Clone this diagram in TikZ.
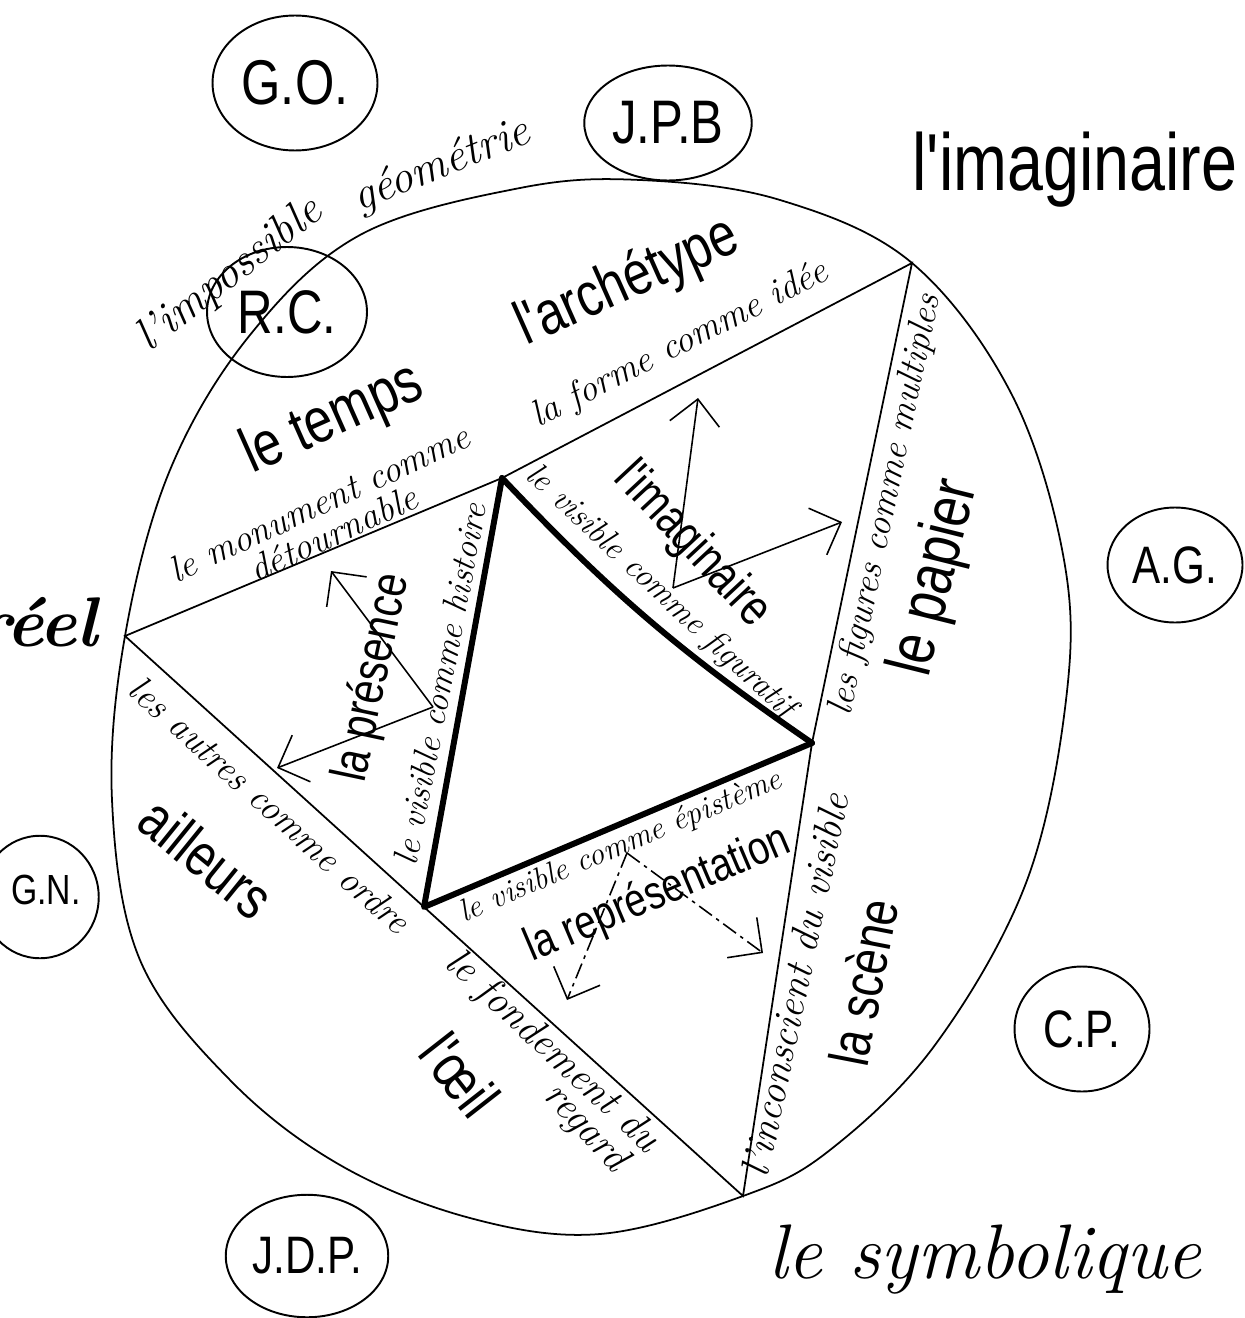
\documentclass[tikz,border=0pt]{standalone}
\usepackage{fontspec}
\newfontfamily\printhand[FakeStretch=0.8]{Liberation Sans}
\usetikzlibrary{shapes.geometric,arrows.meta}

\tikzset{
  trait/.style={line width=1pt},
  gras/.style={line width=3.4pt, line cap=round, line join=round},
  initiales/.style={draw, ellipse, line width=1.1pt, inner sep=0pt,
    font=\printhand\fontsize{30}{30}\selectfont},
  ecrit/.style={font=\itshape\fontsize{#1}{#1}\selectfont, inner sep=0pt},
  imprime/.style={font=\printhand\fontsize{#1}{#1}\selectfont, inner sep=0pt},
  fleche/.style={->, line width=0.9pt},
  pointille/.style={dash pattern=on 9pt off 3pt on 2pt off 3pt},
}

\begin{document}
\begin{tikzpicture}[x=0.02cm, y=-0.02cm,
  >={Straight Barb[length=5mm, width=10mm]}]
\useasboundingbox (0,0) rectangle (1244,1318);
\clip (0,0) rectangle (1244,1318);

% sommets
\coordinate (A) at (912,263);
\coordinate (B) at (125,636);
\coordinate (C) at (743,1196);
\coordinate (P) at (502,478);
\coordinate (Q) at (812,743);
\coordinate (R) at (424,907);

% le contour
\draw[trait] plot[smooth cycle, tension=0.6] coordinates {
  (A) (1012,395) (1064,560) (1066,700) (1026,883) (935,1045)
  (830,1150) (C) (600,1234) (470,1218) (340,1165) (230,1080)
  (140,960) (112,800) (B) (170,470) (250,335) (360,235)
  (520,188) (640,180) (780,200)};

% le grand triangle
\draw[trait] (B) -- (P) -- (A) -- (Q) -- (C) -- (R) -- cycle;
% le petit triangle
\draw[gras] (P) to[bend right=6] (Q);
\draw[gras] (Q) -- (R) -- (P);

% les croix
\coordinate (o1) at (433,707);
\coordinate (o1a) at (331,571);
\coordinate (o1b) at (277,768);
\draw[fleche] (o1) -- (o1a);
\draw[fleche] (o1) -- (o1b);

\coordinate (o2) at (673,588);
\coordinate (o2a) at (698,398);
\coordinate (o2b) at (842,522);
\draw[fleche] (o2) -- (o2a);
\draw[fleche] (o2) -- (o2b);

\coordinate (o3) at (627,853);
\coordinate (o3a) at (567,1000);
\coordinate (o3b) at (763,953);
\draw[fleche, pointille] (o3) -- (o3a);
\draw[fleche, pointille] (o3) -- (o3b);

% les initiales
\node[initiales, minimum width=3.3cm, minimum height=2.7cm,
  font=\printhand\fontsize{36}{36}\selectfont] (go) at (295,83) {G.O.};
\node[initiales, minimum width=3.35cm, minimum height=2.3cm,
  font=\printhand\fontsize{35}{35}\selectfont] (jpb) at (668,123) {J.P.B};
\node[initiales, minimum width=3.2cm, minimum height=2.6cm,
  font=\printhand\fontsize{35}{35}\selectfont] (rc) at (287,312) {R.C.};
\node[initiales, minimum width=2.7cm, minimum height=2.3cm] (ag) at (1175,565) {A.G.};
\node[initiales, minimum width=2.35cm, minimum height=2.45cm] (gn) at (40,897) {};
\node[imprime=24] (gntext) at (46,890) {G.N.};
\node[initiales, minimum width=2.7cm, minimum height=2.5cm] (cp) at (1082,1029) {C.P.};
\node[initiales, minimum width=3.25cm, minimum height=2.45cm] (jdp) at (307,1256) {J.D.P.};

% les registres
\node[imprime=46] (imaginaire) at (1075,170) {l'imaginaire};
\node[ecrit=44] (symbolique) at (985,1260) {le symbolique};
\node[font=\bfseries\itshape\fontsize{40}{40}\selectfont, anchor=east, inner sep=0pt]
  (reel) at (98,622) {réel};

% haut
\node[ecrit=26, rotate=38] (impossible) at (230,275) {l'impossible};
\node[ecrit=26, rotate=22] (geometrie) at (442,166) {géométrie};
\node[imprime=35, rotate=24] (archetype) at (628,283) {l'archétype};
\node[imprime=36, rotate=24] (temps) at (333,420) {le temps};
\node[ecrit=21, rotate=25, align=center, font=\itshape\fontsize{21}{19}\selectfont]
  (monument) at (326,518) {le monument comme\\détournable};
\node[ecrit=21, rotate=27] (forme) at (680,345) {la forme comme idée};

% gauche
\node[ecrit=20, rotate=79] (histoire) at (440,684) {le visible comme histoire};
\node[imprime=29, rotate=78] (presence) at (373,678) {la présence};
\node[ecrit=21, rotate=-42] (ordre) at (270,805) {les autres comme ordre};
\node[imprime=34, rotate=-39] (ailleurs) at (207,858) {ailleurs};

% droite
\node[ecrit=19, rotate=-43] (figuratif) at (660,592) {le visible comme figuratif};
\node[imprime=29, rotate=-47] (imaginaire2) at (692,545) {l'imaginaire};
\node[ecrit=21, rotate=78] (multiples) at (886,505) {les figures comme multiples};
\node[imprime=37, rotate=76] (papier) at (936,578) {le papier};

% bas
\node[ecrit=18, rotate=23] (episteme) at (621,847) {le visible comme épistème};
\node[imprime=27, rotate=23] (representation) at (658,895) {la représentation};
\node[ecrit=23, rotate=-43] (fondement) at (552,1052) {le fondement du};
\node[ecrit=23, rotate=-47] (regard) at (585,1128) {regard};
\node[imprime=34, rotate=-52] (oeil) at (460,1075) {l'œil};
\node[ecrit=23, rotate=78] (inconscient) at (795,985) {l'inconscient du visible};
\node[imprime=32, rotate=79] (scene) at (863,982) {la scène};
\end{tikzpicture}
\end{document}
